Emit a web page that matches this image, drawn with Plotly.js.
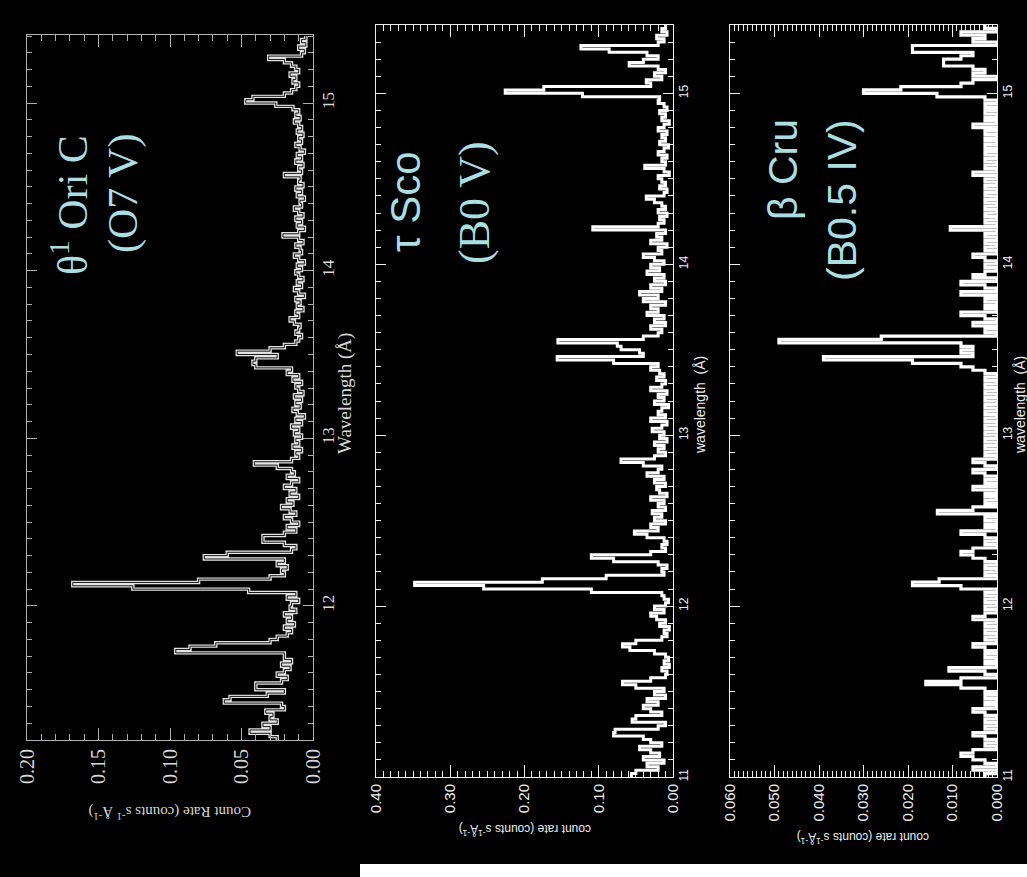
<!DOCTYPE html>
<html><head><meta charset="utf-8">
<script src="https://cdn.plot.ly/plotly-3.0.1.min.js"></script>
<style>html,body{margin:0;padding:0;background:#000;} #chart{width:1027px;height:877px;}</style>
</head><body><div id="chart"></div>
<script>
// ---- data: count rate per 0.02 Å bin (bins start at the given wavelength) ----
const binWidth = 0.02;
const start1 = 11.2;   // θ1 Ori C
const start2 = 11.0;   // τ Sco
const start3 = 11.0;   // β Cru

const thetaOriC = [
 0.025,0.03,0.044,0.03,0.035,0.025,0.03,0.028,0.033,0.02,
 0.022,0.062,0.058,0.032,0.02,0.04,0.04,0.022,0.018,0.025,
 0.02,0.016,0.022,0.015,0.02,0.02,0.096,0.086,0.068,0.03,
 0.025,0.018,0.015,0.02,0.013,0.018,0.015,0.02,0.012,0.016,
 0.015,0.01,0.018,0.012,0.045,0.126,0.168,0.08,0.03,0.02,
 0.022,0.018,0.025,0.02,0.076,0.06,0.015,0.012,0.02,0.035,
 0.035,0.02,0.012,0.018,0.01,0.015,0.02,0.012,0.016,0.022,
 0.014,0.018,0.01,0.016,0.012,0.02,0.015,0.01,0.018,0.013,
 0.015,0.025,0.041,0.015,0.01,0.012,0.008,0.014,0.01,0.012,
 0.008,0.013,0.01,0.015,0.008,0.012,0.006,0.011,0.014,0.009,
 0.012,0.008,0.013,0.007,0.01,0.012,0.008,0.014,0.01,0.018,
 0.015,0.04,0.042,0.04,0.025,0.053,0.03,0.02,0.012,0.01,
 0.008,0.012,0.01,0.009,0.013,0.016,0.01,0.012,0.007,0.011,
 0.009,0.012,0.006,0.01,0.013,0.008,0.011,0.007,0.01,0.012,
 0.008,0.011,0.006,0.01,0.013,0.008,0.009,0.012,0.007,0.01,
 0.021,0.01,0.006,0.011,0.008,0.012,0.007,0.01,0.013,0.008,
 0.009,0.006,0.011,0.008,0.012,0.007,0.01,0.009,0.02,0.008,
 0.01,0.007,0.012,0.008,0.011,0.006,0.009,0.012,0.008,0.01,
 0.007,0.011,0.008,0.01,0.013,0.009,0.012,0.01,0.014,0.026,
 0.047,0.042,0.02,0.015,0.012,0.01,0.014,0.012,0.016,0.01,
 0.012,0.015,0.02,0.031,0.008,0.006,0.01,0.005,0.008,0.005
];

const tauSco = [
 0.056,0.05,0.02,0.035,0.012,0.04,0.018,0.03,0.045,0.015,
 0.03,0.04,0.08,0.078,0.02,0.01,0.055,0.05,0.015,0.03,
 0.04,0.02,0.035,0.01,0.025,0.012,0.05,0.068,0.03,0.01,
 0.008,0.015,0.005,0.012,0.006,0.01,0.025,0.058,0.068,0.05,
 0.015,0.008,0.012,0.005,0.018,0.01,0.022,0.03,0.012,0.025,
 0.01,0.006,0.012,0.015,0.11,0.255,0.348,0.176,0.09,0.012,
 0.015,0.008,0.02,0.08,0.11,0.03,0.01,0.015,0.008,0.012,
 0.035,0.052,0.02,0.03,0.01,0.025,0.015,0.028,0.01,0.02,
 0.012,0.03,0.008,0.018,0.022,0.01,0.025,0.012,0.035,0.02,
 0.015,0.04,0.07,0.025,0.01,0.02,0.012,0.025,0.008,0.018,
 0.012,0.028,0.015,0.008,0.03,0.01,0.02,0.015,0.006,0.025,
 0.012,0.02,0.008,0.03,0.015,0.01,0.022,0.012,0.018,0.03,
 0.02,0.08,0.156,0.04,0.045,0.07,0.075,0.155,0.04,0.02,
 0.015,0.03,0.01,0.025,0.012,0.035,0.02,0.03,0.01,0.04,
 0.02,0.045,0.015,0.03,0.01,0.025,0.012,0.035,0.018,0.03,
 0.012,0.025,0.04,0.015,0.02,0.008,0.03,0.015,0.022,0.01,
 0.108,0.02,0.012,0.018,0.008,0.02,0.01,0.015,0.025,0.036,
 0.012,0.008,0.018,0.01,0.015,0.02,0.005,0.012,0.038,0.01,
 0.015,0.008,0.02,0.012,0.006,0.018,0.01,0.015,0.008,0.02,
 0.012,0.005,0.015,0.01,0.018,0.008,0.012,0.02,0.018,0.122,
 0.226,0.174,0.03,0.036,0.015,0.025,0.01,0.02,0.059,0.04,
 0.02,0.035,0.086,0.124,0.02,0.012,0.022,0.008,0.015,0.01
];

const betaCru = [
 0.0027,0,0.0054,0,0.0027,0.0054,0.0081,0.0054,0,0.0027,
 0,0.0027,0.0054,0,0.0027,0,0.0027,0,0.0027,0.0054,
 0,0.0027,0,0.0027,0,0.0027,0.0081,0.016,0.0081,0,
 0.0027,0.0108,0,0.0027,0,0.0027,0,0.0027,0.0054,0,
 0.0027,0,0.0027,0,0.0027,0,0.0054,0.0027,0,0.0027,
 0,0.0027,0,0.0027,0,0.0081,0.019,0.013,0,0.0027,
 0,0.0027,0,0.0027,0.0054,0.0081,0.0054,0,0.0027,0,
 0.0027,0.0081,0,0.0027,0,0.0027,0,0.0134,0.0054,0,
 0.0027,0,0.0027,0,0.0054,0,0.0027,0,0.0027,0.0054,
 0,0.0027,0.0054,0,0.0027,0,0.0027,0,0.0027,0,
 0.0027,0,0.0027,0,0.0027,0,0.0027,0,0.0027,0,
 0.0027,0,0.0027,0,0.0027,0,0.0027,0,0.0027,0.0054,
 0.0081,0.019,0.039,0.0054,0.0081,0.0054,0.0081,0.049,0.026,0,
 0.0027,0,0.0054,0,0.0027,0.0081,0,0.0027,0,0.0027,
 0,0.0081,0,0.0027,0.0081,0,0.0054,0.0027,0,0.0027,
 0,0.0027,0.0054,0,0.0027,0,0.0027,0,0.0027,0,
 0.0105,0,0.0027,0,0.0027,0,0.0027,0,0.0027,0,
 0.0027,0,0.0027,0,0.0027,0,0.0054,0,0.0027,0,
 0.0027,0,0.0027,0,0.0027,0,0.0027,0,0.0027,0,
 0.0054,0,0.0027,0,0.0027,0,0.0027,0,0.0027,0.0135,
 0.030,0.0216,0.0081,0.0054,0,0.0054,0.0027,0.0054,0.012,0.012,
 0.0081,0.0054,0.019,0.019,0,0.0054,0.0027,0.0081,0,0.0027
];

const starNames = ['θ<sup>1</sup> Ori C', 'τ Sco', 'β Cru'];
const spTypes = ['(O7 V)', '(B0 V)', '(B0.5 IV)'];

// ---- layout helpers (pixel -> paper) ----
const W = 1027, H = 877;
const px = x => x / W;
const py = y => 1 - y / H;
const withEnd = a => a.concat([a[a.length - 1]]);

const serif = 'Liberation Serif, Times New Roman, serif';
const sans = 'Liberation Sans, Arial, sans-serif';
const cyan = 'rgb(170,222,224)';

function step(arr, start, xa, ya, color, width) {
  return {type: 'scatter', mode: 'lines', x: withEnd(arr), y0: start, dy: binWidth,
    xaxis: xa, yaxis: ya, line: {shape: 'vh', color: color, width: width},
    hoverinfo: 'skip', showlegend: false};
}

const traces = [
  step(thetaOriC, start1, 'x', 'y', '#e4e4e4', 3.4),
  step(thetaOriC, start1, 'x', 'y', '#000000', 0.9),
  step(tauSco, start2, 'x2', 'y2', '#ffffff', 3),
  step(betaCru, start3, 'x3', 'y3', '#ffffff', 3.2)
];

function cAxis(dom, anchor, range, dtick, mdtick, fmt, font, col) {
  return {domain: dom, anchor: anchor, range: range, dtick: dtick, tick0: 0, tickformat: fmt,
    ticks: 'inside', ticklen: 12, tickwidth: 1, tickcolor: col, mirror: 'allticks',
    showline: true, linecolor: col, linewidth: 1, showgrid: false, zeroline: false,
    tickangle: -90, tickfont: font, fixedrange: true,
    minor: {dtick: mdtick, tick0: 0, ticks: 'inside', ticklen: 6, tickcolor: col, showgrid: false}};
}
function wAxis(dom, anchor, range, font, col) {
  return {domain: dom, anchor: anchor, range: range, dtick: 1, tick0: 0, side: 'right',
    ticks: 'inside', ticklen: 10, tickwidth: 1, tickcolor: col, mirror: 'allticks',
    showline: true, linecolor: col, linewidth: 1, showgrid: false, zeroline: false,
    tickangle: -90, tickfont: font, fixedrange: true,
    minor: {dtick: 0.1, tick0: 0, ticks: 'inside', ticklen: 5, tickcolor: col, showgrid: false}};
}

const layout = {
  width: W, height: H, margin: {l: 0, r: 0, t: 0, b: 0},
  paper_bgcolor: '#000', plot_bgcolor: '#000', showlegend: false,
  xaxis: cAxis([px(27), px(313)], 'y', [0.2, 0], 0.05, 0.01, '.2f', {family: serif, size: 20, color: '#d8d8d8'}, '#b0b0b0'),
  yaxis: wAxis([py(740), py(35)], 'x', [11.2, 15.406], {family: serif, size: 17, color: '#d8d8d8'}, '#b0b0b0'),
  xaxis2: cAxis([px(376), px(673)], 'y2', [0.40, 0], 0.1, 0.01, '.2f', {family: sans, size: 15, color: '#eee'}, '#f0f0f0'),
  yaxis2: wAxis([py(777), py(25)], 'x2', [11.0, 15.4], {family: sans, size: 12, color: '#eee'}, '#f0f0f0'),
  xaxis3: cAxis([px(730), px(997)], 'y3', [0.060, 0], 0.01, 0.001, '.3f', {family: sans, size: 15, color: '#eee'}, '#f0f0f0'),
  yaxis3: wAxis([py(777), py(25)], 'x3', [11.0, 15.4], {family: sans, size: 12, color: '#eee'}, '#f0f0f0'),
  shapes: [
    {type: 'rect', xref: 'paper', yref: 'paper', x0: px(360), x1: 1, y0: 0, y1: py(864),
     fillcolor: '#fff', line: {width: 0}, layer: 'below'}
  ],
  annotations: [
    {text: starNames[0], x: px(70), y: py(205), font: {family: serif, size: 42, color: cyan}},
    {text: spTypes[0], x: px(123), y: py(194), font: {family: serif, size: 42, color: cyan}},
    {text: starNames[1], x: px(405), y: py(202), font: {family: sans, size: 42, color: cyan}},
    {text: spTypes[1], x: px(475), y: py(203), font: {family: serif, size: 44, color: cyan}},
    {text: starNames[2], x: px(783), y: py(170), font: {family: sans, size: 41, color: cyan}},
    {text: spTypes[2], x: px(842), y: py(200), font: {family: sans, size: 41, color: cyan}},
    {text: 'Wavelength (Å)', x: px(345), y: py(394), font: {family: serif, size: 19, color: '#d8d8d8'}},
    {text: 'Count Rate (counts s<sup>-1</sup> Å<sup>-1</sup>)', x: px(170), y: py(813), textangle: 180, font: {family: serif, size: 15, color: '#d8d8d8'}},
    {text: 'wavelength  (Å)', x: px(700), y: py(405), font: {family: sans, size: 14, color: '#eee'}},
    {text: 'count rate (counts s<sup>-1</sup>Å<sup>-1</sup>)', x: px(525), y: py(830), textangle: 180, font: {family: sans, size: 12, color: '#eee'}},
    {text: 'wavelength  (Å)', x: px(1020), y: py(405), font: {family: sans, size: 14, color: '#eee'}},
    {text: 'count rate (counts s<sup>-1</sup>Å<sup>-1</sup>)', x: px(863), y: py(838), textangle: 180, font: {family: sans, size: 12, color: '#eee'}}
  ].map(a => Object.assign({xref: 'paper', yref: 'paper', showarrow: false, xanchor: 'center', yanchor: 'middle', textangle: -90}, a))
};

Plotly.newPlot('chart', traces, layout, {displayModeBar: false, staticPlot: true});
</script></body></html>
